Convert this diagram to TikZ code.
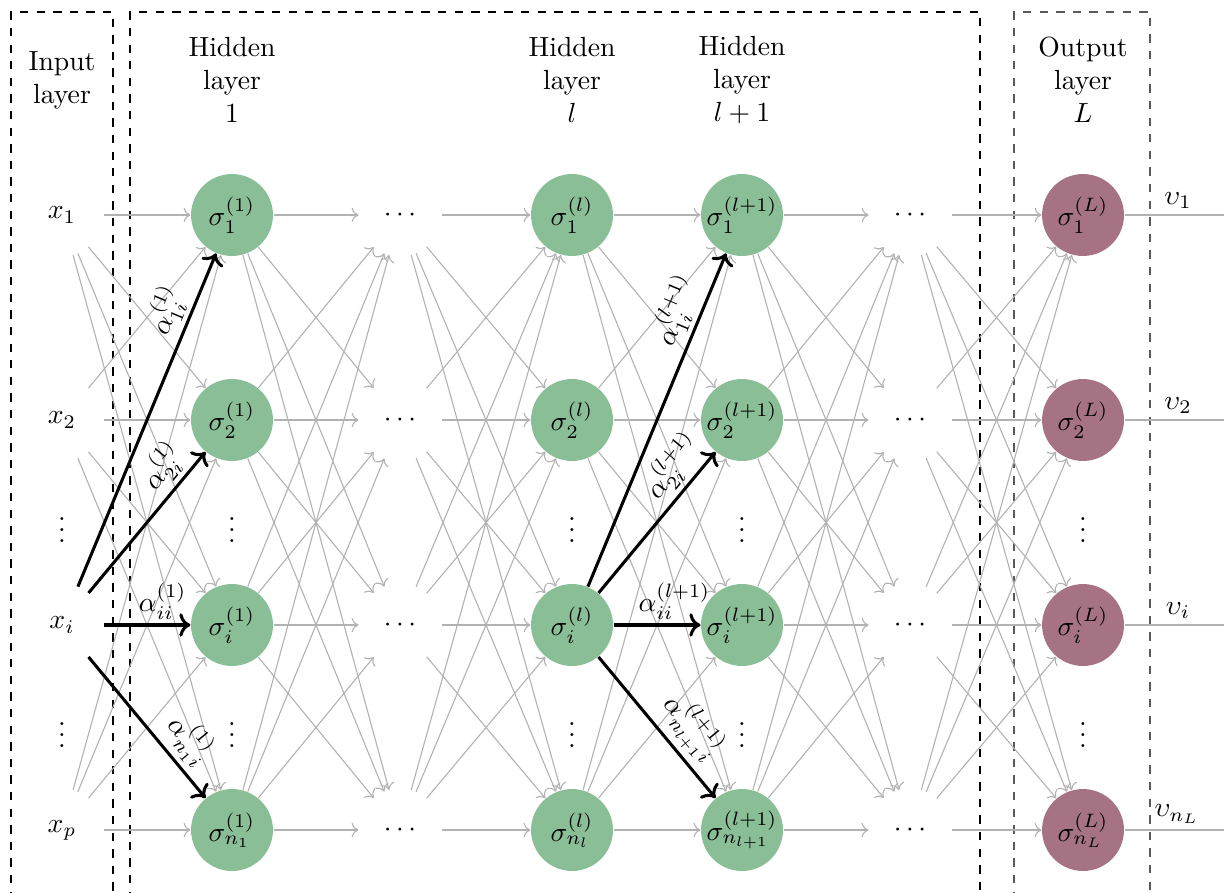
\documentclass[tikz,border=0pt]{standalone}
\usetikzlibrary{arrows.meta}
\definecolor{hgreen}{HTML}{8ABE96}
\definecolor{omaroon}{HTML}{A57383}
\begin{document}
\begin{tikzpicture}[x=0.0127cm,y=-0.0127cm,
  neuron/.style={circle, minimum size=1.04cm, inner sep=0pt},
  hid/.style={neuron, fill=hgreen},
  outn/.style={neuron, fill=omaroon},
  conn/.style={->, draw=black!30},
  boldarrow/.style={->, line width=1.1pt},
  lab/.style={sloped, above, inner sep=1.5pt},
  boxline/.style={dashed, line width=0.5pt},
  head/.style={align=center, inner sep=0pt}]
\useasboundingbox (0,0) rectangle (1224,892);

% dashed layer boxes
\draw[boxline] (11,900) -- (11,12) -- (113,12) -- (113,900);
\draw[boxline] (130,900) -- (130,12) -- (980,12) -- (980,900);
\draw[boxline, draw=black!65] (1014,900) -- (1014,12) -- (1150,12) -- (1150,900);

% headers
\node[head] (hI) at (62,80) {Input\\layer};
\node[head] (hA) at (232,80) {Hidden\\layer\\$1$};
\node[head] (hL) at (572,80) {Hidden\\layer\\$l$};
\node[head] (hM) at (742,80) {Hidden\\layer\\$l+1$};
\node[head] (hO) at (1083,80) {Output\\layer\\$L$};

% input nodes
\node[neuron] (I1) at (62,215) {$x_1$};
\node[neuron] (I2) at (62,420) {$x_2$};
\node[neuron] (Ii) at (62,625) {$x_i$};
\node[neuron] (In) at (62,830) {$x_p$};

% hidden layer 1
\node[hid] (A1) at (232,215) {$\sigma^{(1)}_1$};
\node[hid] (A2) at (232,420) {$\sigma^{(1)}_2$};
\node[hid] (Ai) at (232,625) {$\sigma^{(1)}_i$};
\node[hid] (An) at (232,830) {$\sigma^{(1)}_{n_1}$};

% dots column A
\node[neuron] (D1) at (400,215) {$\cdots$};
\node[neuron] (D2) at (400,420) {$\cdots$};
\node[neuron] (Di) at (400,625) {$\cdots$};
\node[neuron] (Dn) at (400,830) {$\cdots$};

% hidden layer l
\node[hid] (L1) at (572,215) {$\sigma^{(l)}_1$};
\node[hid] (L2) at (572,420) {$\sigma^{(l)}_2$};
\node[hid] (Li) at (572,625) {$\sigma^{(l)}_i$};
\node[hid] (Ln) at (572,830) {$\sigma^{(l)}_{n_l}$};

% hidden layer l+1
\node[hid] (M1) at (742,215) {$\sigma^{(l+1)}_1$};
\node[hid] (M2) at (742,420) {$\sigma^{(l+1)}_2$};
\node[hid] (Mi) at (742,625) {$\sigma^{(l+1)}_i$};
\node[hid] (Mn) at (742,830) {$\sigma^{(l+1)}_{n_{l+1}}$};

% dots column B
\node[neuron] (E1) at (910,215) {$\cdots$};
\node[neuron] (E2) at (910,420) {$\cdots$};
\node[neuron] (Ei) at (910,625) {$\cdots$};
\node[neuron] (En) at (910,830) {$\cdots$};

% output layer
\node[outn] (O1) at (1083,215) {$\sigma^{(L)}_1$};
\node[outn] (O2) at (1083,420) {$\sigma^{(L)}_2$};
\node[outn] (Oi) at (1083,625) {$\sigma^{(L)}_i$};
\node[outn] (On) at (1083,830) {$\sigma^{(L)}_{n_L}$};

% vertical dots
\foreach \xx/\nm in {62/a,232/b,572/c,742/d,1083/e}{
  \node (vu\nm) at (\xx,522) {$\vdots$};
  \node (vl\nm) at (\xx,727) {$\vdots$};
}

% gray connections
\foreach \s in {1,2,n}{
  \foreach \t in {1,2,i,n}{
    \draw[conn] (I\s) -- (A\t);
    \draw[conn] (L\s) -- (M\t);
  }
}
\foreach \s in {1,2,i,n}{
  \foreach \t in {1,2,i,n}{
    \draw[conn] (A\s) -- (D\t);
    \draw[conn] (D\s) -- (L\t);
    \draw[conn] (M\s) -- (E\t);
    \draw[conn] (E\s) -- (O\t);
  }
}

% outputs
\coordinate (R1) at (1224,215);
\coordinate (R2) at (1224,420);
\coordinate (Ri) at (1224,625);
\coordinate (Rn) at (1224,830);
\foreach \t in {1,2,i,n}{
  \draw[black!30] (O\t) -- (R\t);
}
\node[above, inner sep=2pt] (v1) at (1178,215) {$\upsilon_1$};
\node[above, inner sep=2pt] (v2) at (1178,420) {$\upsilon_2$};
\node[above, inner sep=2pt] (vi) at (1178,625) {$\upsilon_i$};
\node[above, inner sep=2pt] (vn) at (1177,830) {$\upsilon_{n_L}$};

% bold highlighted connections
\draw[boldarrow] (Ii) -- node[lab, pos=0.8] {$\alpha^{(1)}_{1i}$} (A1);
\draw[boldarrow] (Ii) -- node[lab, pos=0.79] {$\alpha^{(1)}_{2i}$} (A2);
\draw[boldarrow] (Ii) -- node[lab, pos=0.68] {$\alpha^{(1)}_{ii}$} (Ai);
\draw[boldarrow] (Ii) -- node[lab, pos=0.7] {$\alpha^{(1)}_{n_1i}$} (An);

\draw[boldarrow] (Li) -- node[lab, pos=0.8] {$\alpha^{(l+1)}_{1i}$} (M1);
\draw[boldarrow] (Li) -- node[lab, pos=0.79] {$\alpha^{(l+1)}_{2i}$} (M2);
\draw[boldarrow] (Li) -- node[lab, pos=0.7] {$\alpha^{(l+1)}_{ii}$} (Mi);
\draw[boldarrow] (Li) -- node[lab, pos=0.62] {$\alpha^{(l+1)}_{n_{l+1}i}$} (Mn);
\end{tikzpicture}
\end{document}
